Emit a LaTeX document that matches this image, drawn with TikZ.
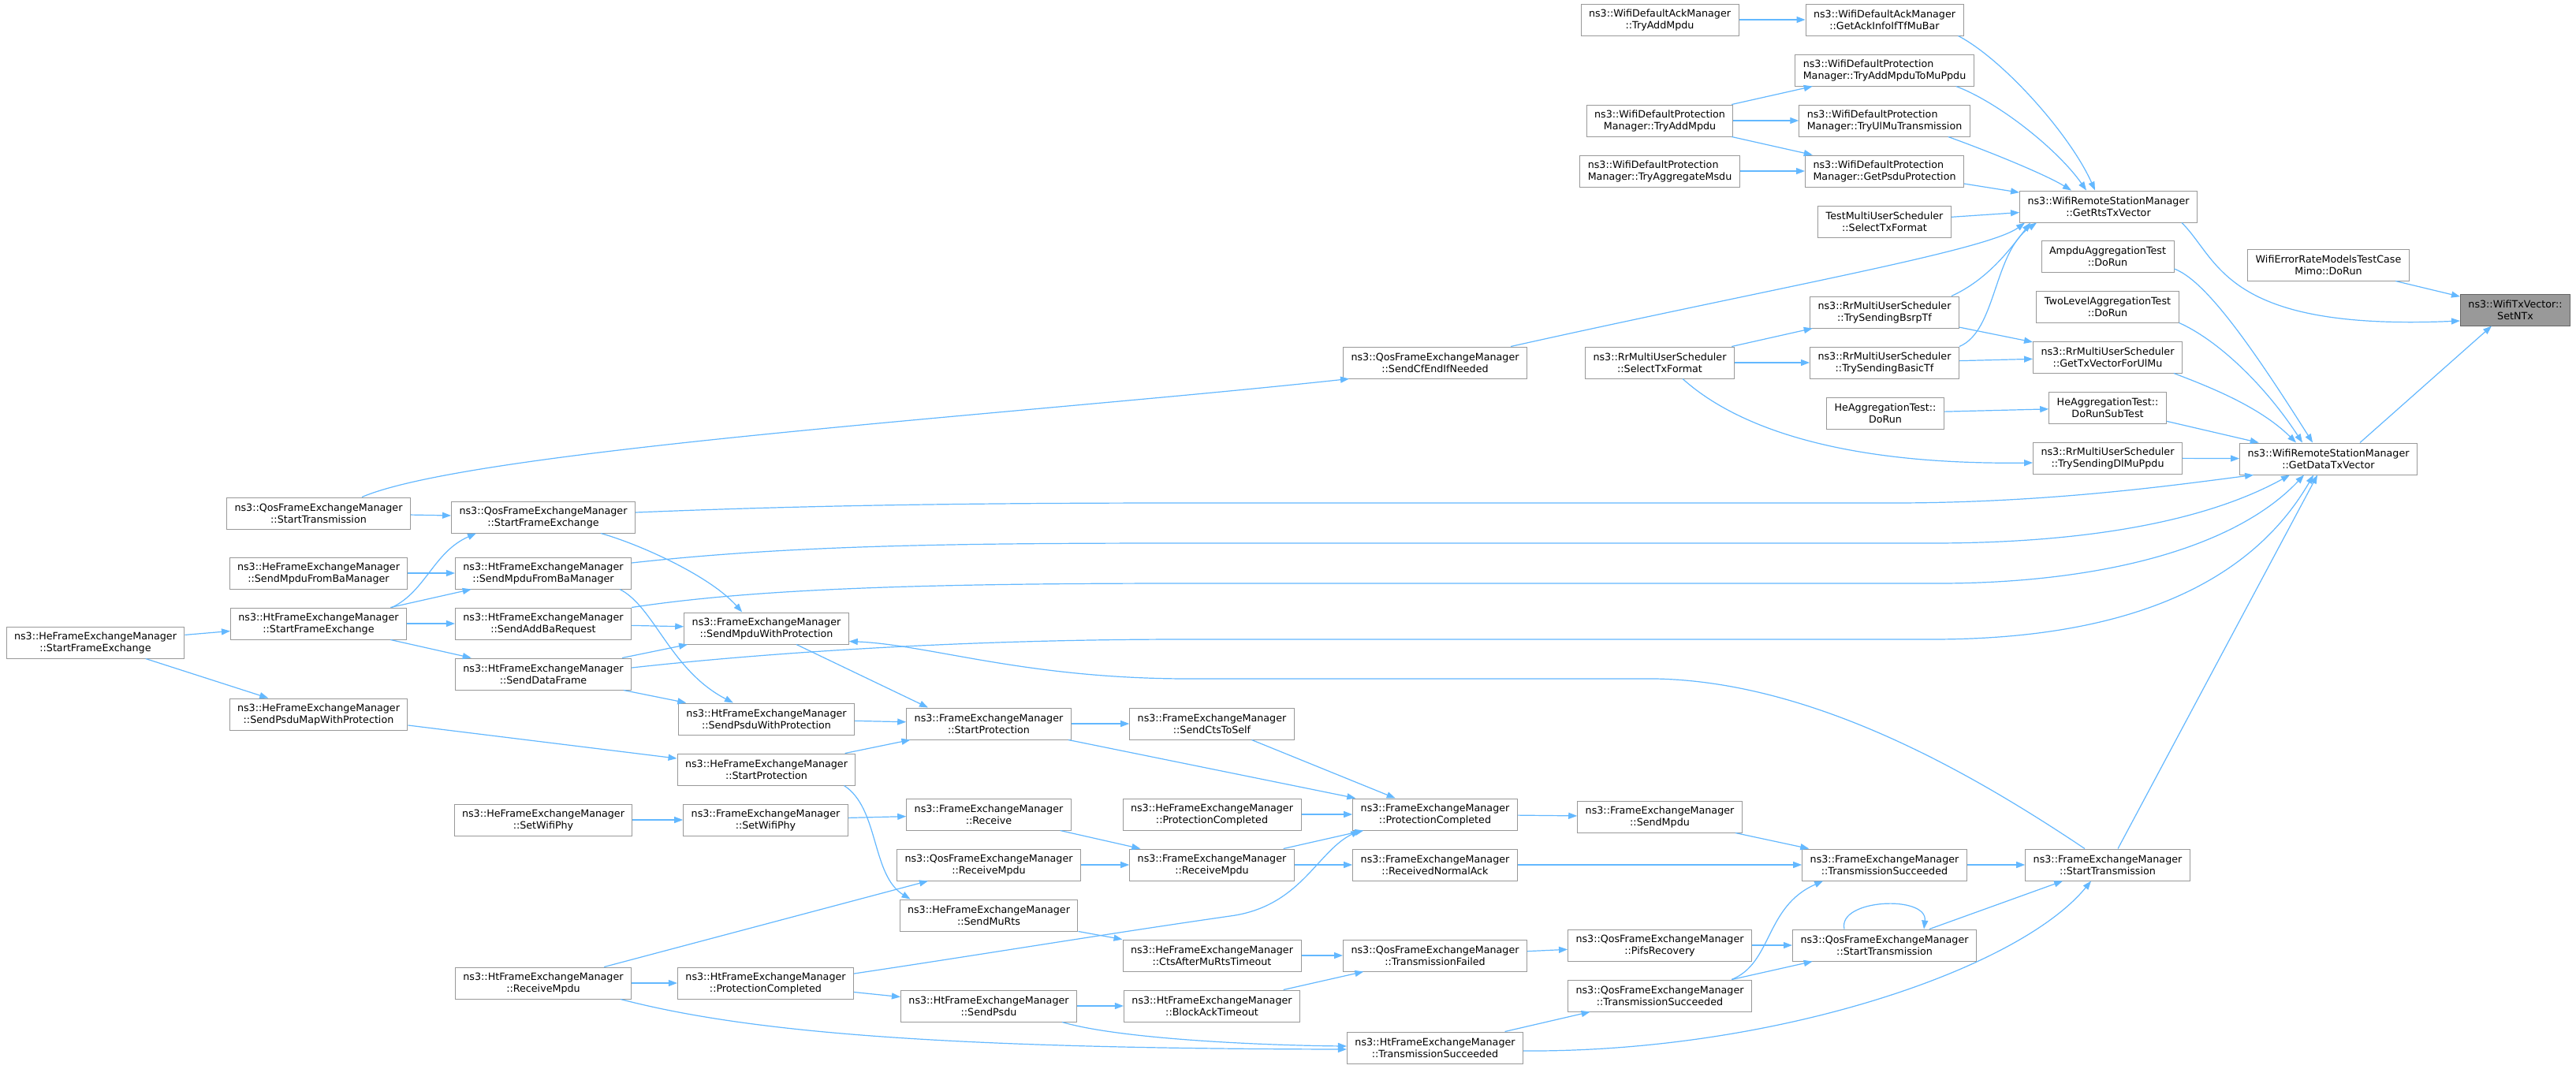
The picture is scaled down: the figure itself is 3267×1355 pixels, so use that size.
\documentclass[tikz,border=0pt]{standalone}
\usepackage{fontspec}
\newfontfamily\graphfont{DejaVu Sans}
\usetikzlibrary{arrows.meta,calc}

\definecolor{edgeblue}{HTML}{63B8FF}
\definecolor{boxgray}{HTML}{999999}
\definecolor{rootgray}{HTML}{666666}

\begin{document}
\begin{tikzpicture}[x=1pt, y=-1pt,
    fnbox/.style={rectangle, draw=boxgray, fill=white, line width=1pt, minimum height=40pt, inner xsep=10pt, inner ysep=2pt, align=center, font=\graphfont\fontsize{12.7pt}{15pt}\selectfont},
    fnleft/.style={fnbox, align=left},
    rootbox/.style={fnbox, fill=boxgray, draw=rootgray},
    arrow/.style={-{Triangle[length=11pt, width=8pt]}, draw=edgeblue, line width=1.2pt}
]

\fill[white] (0,0) rectangle (3267,1355);

% Called function
\node[rootbox] (setntx) at (3190,393) {ns3::WifiTxVector::\\SetNTx};

% Direct callers
\node[fnbox] (mimo) at (2953,336) {WifiErrorRateModelsTestCase\\Mimo::DoRun};
\node[fnbox] (getrts) at (2674,262) {ns3::WifiRemoteStationManager\\::GetRtsTxVector};
\node[fnbox] (getdata) at (2953,582) {ns3::WifiRemoteStationManager\\::GetDataTxVector};

% Callers of GetRtsTxVector / GetDataTxVector
\node[fnbox] (ampdu) at (2673,325) {AmpduAggregationTest\\::DoRun};
\node[fnbox] (twolevel) at (2673,389) {TwoLevelAggregationTest\\::DoRun};
\node[fnbox] (gettxul) at (2673,453) {ns3::RrMultiUserScheduler\\::GetTxVectorForUlMu};
\node[fnbox] (dorunsub) at (2673,517) {HeAggregationTest::\\DoRunSubTest};
\node[fnbox] (trydlmu) at (2673,581) {ns3::RrMultiUserScheduler\\::TrySendingDlMuPpdu};
\node[fnbox] (femstarttx) at (2673,1097) {ns3::FrameExchangeManager\\::StartTransmission};

\node[fnbox] (getackinfo) at (2390,25) {ns3::WifiDefaultAckManager\\::GetAckInfoIfTfMuBar};
\node[fnleft] (tryaddmu) at (2390,89) {ns3::WifiDefaultProtection\\Manager::TryAddMpduToMuPpdu};
\node[fnleft] (tryulmu) at (2390,153) {ns3::WifiDefaultProtection\\Manager::TryUlMuTransmission};
\node[fnleft] (getpsdu) at (2390,217) {ns3::WifiDefaultProtection\\Manager::GetPsduProtection};
\node[fnbox] (testmus) at (2390,281) {TestMultiUserScheduler\\::SelectTxFormat};
\node[fnbox] (trybsrp) at (2390,396) {ns3::RrMultiUserScheduler\\::TrySendingBsrpTf};
\node[fnbox] (trybasic) at (2390,460) {ns3::RrMultiUserScheduler\\::TrySendingBasicTf};
\node[fnbox] (hedorun) at (2391,524) {HeAggregationTest::\\DoRun};
\node[fnbox] (femtxsucc) at (2390,1097) {ns3::FrameExchangeManager\\::TransmissionSucceeded};
\node[fnbox] (qosstarttx) at (2390,1199) {ns3::QosFrameExchangeManager\\::StartTransmission};

\node[fnbox] (acktryadd) at (2105,25) {ns3::WifiDefaultAckManager\\::TryAddMpdu};
\node[fnbox] (prottryadd) at (2105,153) {ns3::WifiDefaultProtection\\Manager::TryAddMpdu};
\node[fnleft] (prottryaggr) at (2105,217) {ns3::WifiDefaultProtection\\Manager::TryAggregateMsdu};
\node[fnbox] (rrselect) at (2105,460) {ns3::RrMultiUserScheduler\\::SelectTxFormat};
\node[fnbox] (femsendmpdu) at (2105,1036) {ns3::FrameExchangeManager\\::SendMpdu};
\node[fnbox] (qospifs) at (2105,1199) {ns3::QosFrameExchangeManager\\::PifsRecovery};
\node[fnbox] (qostxsucc) at (2105,1263) {ns3::QosFrameExchangeManager\\::TransmissionSucceeded};

\node[fnbox] (sendcfend) at (1820,460) {ns3::QosFrameExchangeManager\\::SendCfEndIfNeeded};
\node[fnbox] (femprotcomp) at (1820,1033) {ns3::FrameExchangeManager\\::ProtectionCompleted};
\node[fnbox] (femrxnormalack) at (1820,1097) {ns3::FrameExchangeManager\\::ReceivedNormalAck};
\node[fnbox] (qostxfailed) at (1820,1212) {ns3::QosFrameExchangeManager\\::TransmissionFailed};
\node[fnbox] (httxsucc) at (1820,1329) {ns3::HtFrameExchangeManager\\::TransmissionSucceeded};

\node[fnbox] (femsendcts) at (1537,918) {ns3::FrameExchangeManager\\::SendCtsToSelf};
\node[fnbox] (heprotcomp) at (1537,1033) {ns3::HeFrameExchangeManager\\::ProtectionCompleted};
\node[fnbox] (femrxmpdu) at (1537,1097) {ns3::FrameExchangeManager\\::ReceiveMpdu};
\node[fnbox] (hectsafter) at (1537,1212) {ns3::HeFrameExchangeManager\\::CtsAfterMuRtsTimeout};
\node[fnbox] (htblockack) at (1537,1276) {ns3::HtFrameExchangeManager\\::BlockAckTimeout};

\node[fnbox] (femstartprot) at (1254,918) {ns3::FrameExchangeManager\\::StartProtection};
\node[fnbox] (femreceive) at (1254,1033) {ns3::FrameExchangeManager\\::Receive};
\node[fnbox] (qosrxmpdu) at (1254,1097) {ns3::QosFrameExchangeManager\\::ReceiveMpdu};
\node[fnbox] (hesendmurts) at (1254,1161) {ns3::HeFrameExchangeManager\\::SendMuRts};
\node[fnbox] (htsendpsdu) at (1254,1276) {ns3::HtFrameExchangeManager\\::SendPsdu};

\node[fnbox] (femsendmpduwp) at (972,797) {ns3::FrameExchangeManager\\::SendMpduWithProtection};
\node[fnbox] (htsendpsduwp) at (972,912) {ns3::HtFrameExchangeManager\\::SendPsduWithProtection};
\node[fnbox] (hestartprot) at (972,976) {ns3::HeFrameExchangeManager\\::StartProtection};
\node[fnbox] (femsetwifiphy) at (971,1040) {ns3::FrameExchangeManager\\::SetWifiPhy};
\node[fnbox] (htprotcomp) at (971,1247) {ns3::HtFrameExchangeManager\\::ProtectionCompleted};

\node[fnbox] (qosstartfe) at (689,656) {ns3::QosFrameExchangeManager\\::StartFrameExchange};
\node[fnbox] (htsendmpduba) at (689,727) {ns3::HtFrameExchangeManager\\::SendMpduFromBaManager};
\node[fnbox] (htsendaddba) at (689,791) {ns3::HtFrameExchangeManager\\::SendAddBaRequest};
\node[fnbox] (htsenddata) at (689,855) {ns3::HtFrameExchangeManager\\::SendDataFrame};
\node[fnbox] (hesetwifiphy) at (689,1040) {ns3::HeFrameExchangeManager\\::SetWifiPhy};
\node[fnbox] (htrxmpdu) at (689,1247) {ns3::HtFrameExchangeManager\\::ReceiveMpdu};

\node[fnbox] (qosstarttxl) at (404,651) {ns3::QosFrameExchangeManager\\::StartTransmission};
\node[fnbox] (hesendmpduba) at (404,727) {ns3::HeFrameExchangeManager\\::SendMpduFromBaManager};
\node[fnbox] (htstartfe) at (404,791) {ns3::HtFrameExchangeManager\\::StartFrameExchange};
\node[fnbox] (hesendpsdumap) at (404,906) {ns3::HeFrameExchangeManager\\::SendPsduMapWithProtection};

\node[fnbox] (hestartfe) at (121,815) {ns3::HeFrameExchangeManager\\::StartFrameExchange};

% Arrows into SetNTx
\draw[arrow] ($(getrts.south east)+(-20,0)$) .. controls (2815,330) and (2820,420) .. ($(setntx.west)+(0,14)$);
\draw[arrow] (mimo) -- (setntx);
\draw[arrow] ($(getdata.north)+(40,0)$) -- ($(setntx.south)+(-30,0)$);

% Arrows into GetRtsTxVector
\draw[arrow] ($(getackinfo.south east)+(-7,0)$) .. controls (2540,75) and (2625,170) .. ($(getrts.north)+(-17,0)$);
\draw[arrow] ($(tryaddmu.south east)+(-23,0)$) .. controls (2535,130) and (2610,190) .. ($(getrts.north)+(-28,0)$);
\draw[arrow] ($(tryulmu.south east)+(-28,0)$) .. controls (2530,195) and (2595,222) .. ($(getrts.north)+(-47,0)$);
\draw[arrow] (getpsdu) -- (getrts);
\draw[arrow] (testmus) -- (getrts);
\draw[arrow] ($(sendcfend.north east)+(-21,0)$) .. controls (2250,365) and (2520,318) .. ($(getrts.south west)+(7,0)$);
\draw[arrow] ($(trybsrp.north east)+(-10,0)$) .. controls (2520,355) and (2548,318) .. ($(getrts.south west)+(14,0)$);
\draw[arrow] (trybasic.north east) .. controls (2532,420) and (2528,320) .. ($(getrts.south west)+(22,0)$);

% Arrows into GetDataTxVector
\draw[arrow] ($(ampdu.east)+(0,16)$) .. controls (2795,355) and (2850,430) .. ($(getdata.north west)+(93,0)$);
\draw[arrow] (twolevel.south east) .. controls (2810,430) and (2870,485) .. ($(getdata.north west)+(80,0)$);
\draw[arrow] ($(gettxul.south east)+(-11,0)$) .. controls (2800,490) and (2865,515) .. ($(getdata.north west)+(72,0)$);
\draw[arrow] (dorunsub) -- (getdata);
\draw[arrow] (trydlmu) -- (getdata);
\draw[arrow] ($(qosstartfe.east)+(0,-6)$) .. controls (1000,642) and (1200,638) .. (1500,638) -- (2400,638) .. controls (2600,638) and (2760,615) .. ($(getdata.south west)+(18,0)$);
\draw[arrow] ($(htsendmpduba.east)+(0,-13)$) .. controls (1000,692) and (1200,689) .. (1500,689) -- (2450,689) .. controls (2650,689) and (2800,660) .. ($(getdata.south west)+(64,0)$);
\draw[arrow] (htsendaddba.north east) .. controls (950,748) and (1150,740) .. (1500,740) -- (2450,740) .. controls (2650,741) and (2830,700) .. ($(getdata.south west)+(82,0)$);
\draw[arrow] ($(htsenddata.east)+(0,-8)$) .. controls (1000,825) and (1250,811) .. (1500,811) -- (2450,811) .. controls (2650,811) and (2840,765) .. ($(getdata.south west)+(94,0)$);
\draw[arrow] ($(femstarttx.north)+(13,0)$) -- ($(getdata.south west)+(99,0)$);

% Frame exchange managers, left part
\draw[arrow] ($(qosstarttxl.north)+(55,0)$) .. controls (600,570) and (1300,525) .. ($(sendcfend.south west)+(8,0)$);
\draw[arrow] (qosstarttxl) -- (qosstartfe);
\draw[arrow] (hesendmpduba) -- (htsendmpduba);
\draw[arrow] ($(htstartfe.north east)+(-19,0)$) .. controls (540,750) and (550,700) .. ($(qosstartfe.south west)+(32,0)$);
\draw[arrow] (htstartfe) -- (htsendmpduba);
\draw[arrow] (htstartfe) -- (htsendaddba);
\draw[arrow] (htstartfe) -- (htsenddata);
\draw[arrow] (hestartfe) -- (htstartfe);
\draw[arrow] (hestartfe) -- (hesendpsdumap);
\draw[arrow] ($(qosstartfe.south east)+(-44,0)$) .. controls (810,690) and (900,730) .. ($(femsendmpduwp.north west)+(74,0)$);
\draw[arrow] (htsendaddba) -- (femsendmpduwp);
\draw[arrow] (htsenddata) -- (femsendmpduwp);
\draw[arrow] ($(htsendmpduba.south east)+(-15,0)$) .. controls (830,770) and (850,850) .. ($(htsendpsduwp.north west)+(70,0)$);
\draw[arrow] (htsenddata) -- (htsendpsduwp);
\draw[arrow] (hesendpsdumap) -- (hestartprot);

% Protection and reception
\draw[arrow] ($(femsendmpduwp.south)+(38,0)$) -- ($(femstartprot.north)+(-77,0)$);
\draw[arrow] (htsendpsduwp) -- (femstartprot);
\draw[arrow] (hestartprot) -- (femstartprot);
\draw[arrow] (femstartprot) -- (femsendcts);
\draw[arrow] (femstartprot) -- (femprotcomp);
\draw[arrow] (femsendcts) -- (femprotcomp);
\draw[arrow] (heprotcomp) -- (femprotcomp);
\draw[arrow] (femprotcomp) -- (femsendmpdu);
\draw[arrow] (hesetwifiphy) -- (femsetwifiphy);
\draw[arrow] (femsetwifiphy) -- (femreceive);
\draw[arrow] ($(hestartprot.south east)+(-15,0)$) .. controls (1115,1025) and (1105,1110) .. ($(hesendmurts.north west)+(14,0)$);
\draw[arrow] (femreceive) -- (femrxmpdu);
\draw[arrow] (qosrxmpdu) -- (femrxmpdu);
\draw[arrow] (htrxmpdu) -- (qosrxmpdu);
\draw[arrow] (htrxmpdu) -- (htprotcomp);
\draw[arrow] ($(htrxmpdu.south east)+(-14,0)$) .. controls (950,1310) and (1200,1330) .. ($(httxsucc.west)+(0,2)$);
\draw[arrow] ($(htsendpsdu.south east)+(-19,0)$) .. controls (1420,1318) and (1600,1326) .. ($(httxsucc.west)+(0,-2)$);
\draw[arrow] ($(htprotcomp.east)+(0,-12)$) .. controls (1250,1210) and (1400,1185) .. (1560,1162) .. controls (1650,1150) and (1670,1080) .. ($(femprotcomp.south west)+(9,0)$);
\draw[arrow] (htprotcomp) -- (htsendpsdu);
\draw[arrow] (hesendmurts) -- (hectsafter);
\draw[arrow] (htsendpsdu) -- (htblockack);
\draw[arrow] (femrxmpdu) -- (femprotcomp);
\draw[arrow] (femrxmpdu) -- (femrxnormalack);

% Transmission
\draw[arrow] (femrxnormalack) -- (femtxsucc);
\draw[arrow] (femsendmpdu) -- (femtxsucc);
\draw[arrow] (hectsafter) -- (qostxfailed);
\draw[arrow] (htblockack) -- (qostxfailed);
\draw[arrow] (qostxfailed) -- (qospifs);
\draw[arrow] (qospifs) -- (qosstarttx);
\draw[arrow] ($(qosstarttx.north)+(-51,0)$) .. controls (2330,1140) and (2445,1135) .. ($(qosstarttx.north)+(50,0)$);
\draw[arrow] (qostxsucc) -- (qosstarttx);
\draw[arrow] ($(qostxsucc.north east)+(-26,0)$) .. controls (2248,1222) and (2238,1150) .. ($(femtxsucc.south west)+(27,0)$);
\draw[arrow] (httxsucc) -- (qostxsucc);
\draw[arrow] ($(httxsucc.east)+(0,4)$) .. controls (2250,1335) and (2560,1230) .. ($(femstarttx.south)+(-21,0)$);
\draw[arrow] (qosstarttx) -- (femstarttx);
\draw[arrow] (femtxsucc) -- (femstarttx);
\draw[arrow] ($(femstarttx.north)+(-29,0)$) .. controls (2500,980) and (2300,865) .. (2100,861) -- (1508,861) .. controls (1300,861) and (1180,818) .. ($(femsendmpduwp.south east)+(0,-4)$);

% Schedulers
\draw[arrow] (rrselect) -- (trybsrp);
\draw[arrow] (rrselect) -- (trybasic);
\draw[arrow] ($(rrselect.south)+(29,0)$) .. controls (2200,540) and (2330,590) .. ($(trydlmu.west)+(0,6)$);
\draw[arrow] (trybsrp) -- (gettxul);
\draw[arrow] (trybasic) -- (gettxul);
\draw[arrow] (hedorun) -- (dorunsub);

% Ack and protection managers
\draw[arrow] (acktryadd) -- (getackinfo);
\draw[arrow] (prottryadd) -- (tryaddmu);
\draw[arrow] (prottryadd) -- (tryulmu);
\draw[arrow] (prottryadd) -- (getpsdu);
\draw[arrow] (prottryaggr) -- (getpsdu);

\end{tikzpicture}
\end{document}
